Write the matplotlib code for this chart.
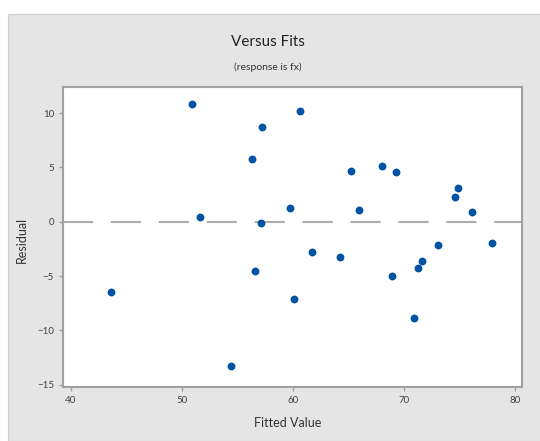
import matplotlib.pyplot as plt
from matplotlib.patches import Rectangle

# residuals vs fitted values
fitted = [50.9, 57.2, 56.3, 51.6, 57.1, 56.6, 43.6, 54.4,
          60.6, 59.7, 65.2, 68.0, 69.3, 65.9, 74.8, 74.6, 76.1,
          60.1, 61.7, 64.2, 68.9, 71.2, 71.6, 73.0, 77.9, 70.9]
residual = [10.85, 8.7, 5.75, 0.46, -0.09, -4.54, -6.48, -13.24,
            10.2, 1.29, 4.64, 5.13, 4.55, 1.1, 3.13, 2.3, 0.86,
            -7.12, -2.82, -3.28, -4.98, -4.24, -3.65, -2.12, -1.96, -8.85]

x_ticks = [40, 50, 60, 70, 80]
y_ticks = [-15, -10, -5, 0, 5, 10]

plt.rcParams['font.family'] = ['Lato', 'DejaVu Sans']

fig = plt.figure(figsize=(5.4, 4.41), dpi=100)
fig.patch.set_facecolor('white')
# grey panel behind the chart
fig.patches.append(Rectangle((8 / 540, 0), 1, 1 - 14 / 441, transform=fig.transFigure,
                             facecolor='#E5E5E5', edgecolor='#D0D0D0', linewidth=0.8, zorder=-5))

ax = fig.add_axes([63 / 540, 1 - 387 / 441, 459 / 540, 300 / 441])
ax.set_zorder(2)
ax.set_facecolor('white')

# reference line at zero, long dashes
ax.axhline(0, color='#ABABAB', linewidth=1.5, linestyle=(0, (14.4, 8.6)), zorder=1)
ax.scatter(fitted, residual, s=32, color='#0053A4', zorder=3, linewidths=0)

ax.set_xlim(39.3, 80.6)
ax.set_ylim(-15.2, 12.4)
ax.set_xticks(x_ticks)
ax.set_yticks(y_ticks)

for s in ax.spines.values():
    s.set_color('#A0A0A0')
    s.set_linewidth(1.5)
ax.tick_params(colors='#A0A0A0', labelcolor='#404040', labelsize=7, length=3, width=1)

ax.set_xlabel('Fitted Value', fontsize=9, color='#333333')
ax.set_ylabel('Residual', fontsize=9, color='#333333')
ax.xaxis.set_label_coords((288 - 63) / 459, -(423 - 387) / 300)
ax.yaxis.set_label_coords(-(63 - 22) / 459, (387 - 240) / 300)
ax.xaxis.label.set_va('center')
ax.yaxis.label.set_va('center')

fig.text(268 / 540, 1 - 42 / 441, 'Versus Fits', ha='center', va='center', fontsize=11, color='#222222')
fig.text(268 / 540, 1 - 67 / 441, '(response is fx)', ha='center', va='center', fontsize=7.5, color='#333333')

plt.savefig('out.png', dpi=100)
plt.close()
